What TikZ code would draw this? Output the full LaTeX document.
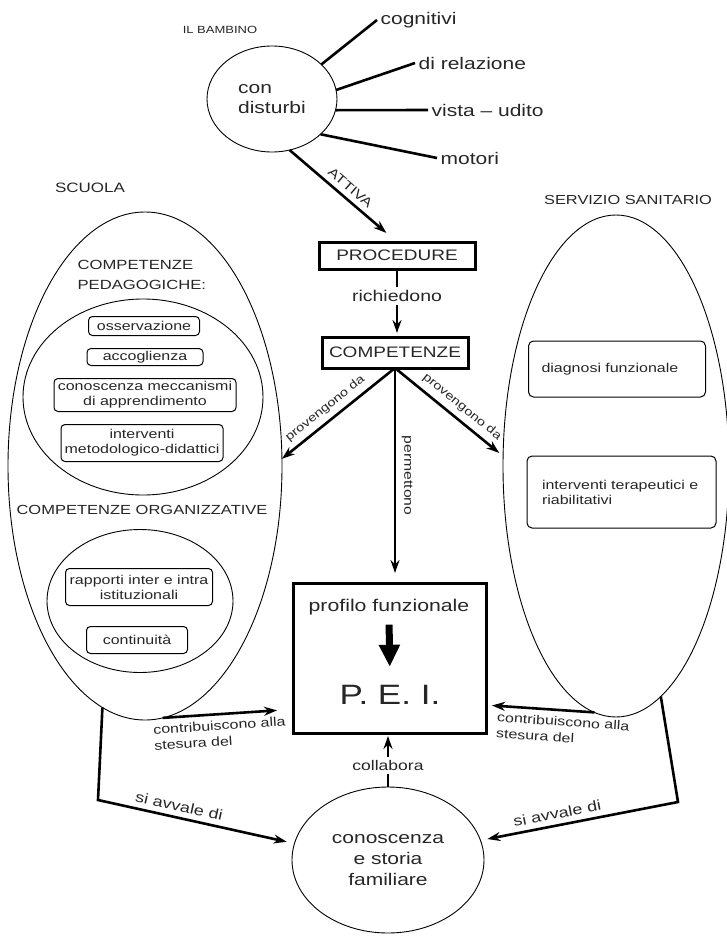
\documentclass[tikz,border=0pt]{standalone}
\usepackage{fontspec}
\setmainfont{Liberation Sans}[FakeStretch=1.25]
\usetikzlibrary{arrows.meta,shapes.geometric}
\newcommand{\fsz}[2]{\fontsize{#1}{#2}\selectfont}

\begin{document}
\begin{tikzpicture}[x=1pt,y=-1pt,>={Stealth[length=13pt,width=9pt]},semithick,
                    every node/.style={text=black!85},
                    blob/.style={ellipse,draw,line width=0.9pt,inner sep=0pt,outer sep=0pt},
                    thickbox/.style={draw,line width=3pt,inner sep=0pt,outer sep=0pt},
                    pill/.style={draw,rounded corners=4pt,line width=1pt,inner sep=0pt,
                                 align=center,font=\fsz{12.8}{15}},
                    sanbox/.style={draw,rounded corners=5pt,line width=1pt,inner sep=0pt,
                                   text width=#1,align=left,font=\fsz{12.8}{15}},
                    conn/.style={line width=2.6pt},
                    lbl/.style={font=\fsz{12.8}{16}}]
  \useasboundingbox (0,0) rectangle (727,937);

  % il bambino
  \node[font=\fsz{10.4}{12}] (bamb-lbl) at (220,30) {IL BAMBINO};
  \node[blob,minimum width=130pt,minimum height=106pt,align=left,
        font=\fsz{16.8}{20}]                     (bamb) at (272,99) {con\\disturbi};
  \node[anchor=west,font=\fsz{16.8}{20}]         (cog)  at (377,20) {cognitivi};
  \node[anchor=west,font=\fsz{16.8}{20}]         (rel)  at (415,63) {di relazione};
  \node[anchor=west,font=\fsz{16.8}{20}]         (vis)  at (428,110) {vista – udito};
  \node[anchor=west,font=\fsz{16.8}{20}]         (mot)  at (437,158) {motori};

  % centro
  \node[thickbox,minimum width=156pt,minimum height=27pt,
        font=\fsz{15.2}{18}]                     (proc) at (397,255.5) {PROCEDURE};
  \node[thickbox,minimum width=146pt,minimum height=31pt,
        font=\fsz{15.2}{18}]                     (comp) at (395,352.5) {COMPETENZE};
  \node[thickbox,minimum width=193pt,minimum height=150pt] (pei) at (389.5,658) {};
  \node[font=\fsz{17}{20}]                       (prof) at (389,607) {profilo funzionale};
  \node[font=\fsz{28}{32}]                       (peitxt) at (390,695) {P.\ E.\ I.};
  \node[blob,minimum width=192pt,minimum height=146pt,align=center,
        font=\fsz{16.8}{21}]                     (fam)  at (388,860) {conoscenza\\e storia\\familiare};

  % scuola
  \node[blob,minimum width=274pt,minimum height=508pt] (scuola) at (145,466) {};
  \node[font=\fsz{13.6}{16}]                     (scuola-lbl) at (90,188) {SCUOLA};
  \node[anchor=west,align=left,font=\fsz{13.3}{20}] (ped-lbl) at (74,275) {COMPETENZE\\PEDAGOGICHE:};
  \node[blob,minimum width=240pt,minimum height=196pt] (ped) at (143,397) {};
  \node[pill,minimum width=111pt,minimum height=19pt] (oss)   at (144,326) {osservazione};
  \node[pill,minimum width=116pt,minimum height=17pt] (acc)   at (145,357) {accoglienza};
  \node[pill,minimum width=182pt,minimum height=33pt] (mecc)  at (145,395) {conoscenza meccanismi\\di apprendimento};
  \node[pill,minimum width=162pt,minimum height=37pt] (metod) at (142,443) {interventi\\metodologico-didattici};
  \node[font=\fsz{13.2}{16}]                     (org-lbl) at (142,510) {COMPETENZE ORGANIZZATIVE};
  \node[blob,minimum width=186pt,minimum height=143pt] (org) at (140,601) {};
  \node[pill,minimum width=147pt,minimum height=37pt] (rapp)  at (139,587) {rapporti inter e intra\\istituzionali};
  \node[pill,minimum width=101pt,minimum height=27pt] (cont)  at (137,640) {continuità};

  % servizio sanitario
  \node[blob,minimum width=226pt,minimum height=502pt] (sanita) at (616,466) {};
  \node[font=\fsz{13.1}{16}]                     (sanita-lbl) at (628,200) {SERVIZIO SANITARIO};
  \node[sanbox=151pt,minimum width=177pt,minimum height=56pt] (diag) at (617,369) {diagnosi funzionale};
  \node[sanbox=159pt,minimum width=189pt,minimum height=72pt] (ter)  at (621.5,492) {interventi terapeutici e\\riabilitativi};

  \coordinate (sbend) at (98,800);
  \coordinate (dbend) at (678,802);

  \path[conn] (bamb.35)  edge (cog.west)
              (bamb.8)   edge (rel.west)
              (bamb.-10) edge (vis.west)
              (bamb.-36) edge (mot.west);

  \draw[conn,->,shorten >=14pt] (bamb.-71) -- node[sloped,above=2pt,lbl] {ATTIVA} (proc.north);
  \draw[conn,->,shorten >=4pt] (proc.south) -- node[fill=white,pos=0.4,font=\fsz{15.6}{18}] {richiedono} (proc.south |- comp.north);

  \draw[conn,->] (comp.south) -- node[sloped,above=2pt,pos=0.55,font=\fsz{11.7}{14}] {provengono da} (scuola.3);
  \draw[conn,->,shorten >=5pt] (comp.south) -- node[sloped,above=2pt,pos=0.55,font=\fsz{11.7}{14}] {provengono da} (sanita.175);
  \draw[conn,->,shorten >=10pt] (comp.south) -- node[rotate=-90,anchor=south,yshift=2pt,font=\fsz{12.6}{15}] {permettono} (comp.south |- pei.north);

  \draw[line width=7pt,-{Triangle[length=22pt,width=20pt]},shorten <=6pt,shorten >=15pt] (prof.south) -- (peitxt.north);

  \draw[conn,->,shorten >=16pt] (scuola.-86) -- node[sloped,below=2pt,pos=0.43,align=left,lbl] {contribuiscono alla\\stesura del} (pei.-152);
  \draw[conn,->,shorten >=6pt] (sanita.-95) -- node[sloped,below=2pt,pos=0.28,align=left,lbl] {contribuiscono alla\\stesura del} (pei.-26);

  \draw[conn,->,shorten >=3pt] (fam.north) -- node[fill=white,pos=0.4,font=\fsz{14}{16}] {collabora} (fam.north |- pei.south);

  \draw[conn,->,shorten >=8pt] (scuola.-100) -- (sbend) -- node[sloped,above=2pt,pos=0.4,font=\fsz{14.4}{17}] {si avvale di} (fam.170);
  \draw[conn,->,shorten >=7pt] (sanita.-79) -- (dbend) -- node[sloped,above=2pt,pos=0.6,font=\fsz{14.4}{17}] {si avvale di} (fam.12);

\end{tikzpicture}
\end{document}
